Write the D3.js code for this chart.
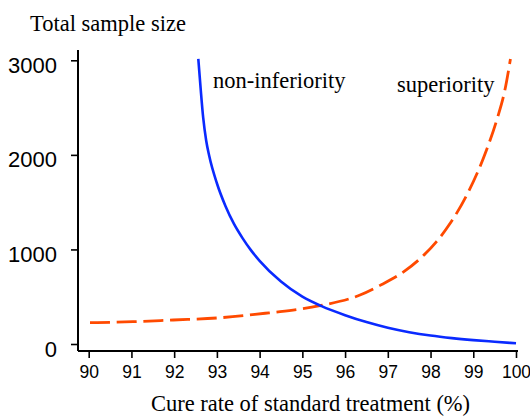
<!DOCTYPE html>
<html>
<head>
<meta charset="utf-8">
<script src="https://cdn.jsdelivr.net/npm/d3@7"></script>
<style>
  body { margin: 0; background: #fff; }
  svg { display: block; }
</style>
</head>
<body>
<div id="sample-chart"></div>
<script>
// tick values
const xTicks = [90, 91, 92, 93, 94, 95, 96, 97, 98, 99, 100];
const yTicks = [0, 1000, 2000, 3000];

// non-inferiority trial (solid blue)
const nonInfRate = [92.565, 92.62, 92.68, 92.75, 92.82, 93.0, 93.2, 93.4, 93.6, 93.8, 94.0, 94.5, 95.0, 95.45, 96.0, 96.5, 97.0, 97.5, 98.0, 98.5, 99.0, 99.5, 100.0];
const nonInfSize = [3014, 2700, 2390, 2150, 1990, 1700, 1460, 1270, 1120, 990, 880, 660, 500, 400, 305, 232, 172, 125, 89, 62, 41, 24, 8];

// superiority trial (dashed orange)
const supRate = [90.03, 91.04, 91.98, 93.0, 94.13, 94.48, 95.41, 96.35, 96.82, 97.36, 97.75, 98.14, 98.46, 98.85, 99.31, 99.55, 99.74, 99.87];
const supSize = [225, 236, 254, 275, 325, 342, 405, 518, 620, 760, 900, 1082, 1276, 1576, 2051, 2369, 2686, 3014];

const width = 530;
const height = 416;

const svg = d3
  .select("#sample-chart")
  .append("svg")
  .attr("width", width)
  .attr("height", height);

svg.append("rect").attr("width", width).attr("height", height).attr("fill", "#fff");

// scales
const x = d3.scaleLinear().domain([90, 100]).range([88.7, 516]);
const y = d3.scaleLinear().domain([0, 3000]).range([344, 60.3]);

const axisX = 78;
const axisY = 351;

// y axis
const yAxis = svg
  .append("g")
  .attr("transform", `translate(${axisX},0)`)
  .call(d3.axisLeft(y).tickValues(yTicks).tickSize(7).tickPadding(14).tickFormat(d3.format("d")));
yAxis.select(".domain").remove();
yAxis.selectAll(".tick line").attr("stroke", "#000").attr("stroke-width", 1.6);
yAxis
  .selectAll(".tick text")
  .attr("y", 5)
  .attr("fill", "#000")
  .style("font-family", "'Liberation Sans', Arial, sans-serif")
  .style("font-size", "22px");

// x axis
const xAxis = svg
  .append("g")
  .attr("transform", `translate(0,${axisY})`)
  .call(d3.axisBottom(x).tickValues(xTicks).tickSize(7).tickPadding(8).tickFormat(d3.format("d")));
xAxis.select(".domain").remove();
xAxis.selectAll(".tick line").attr("stroke", "#000").attr("stroke-width", 1.6);
xAxis
  .selectAll(".tick text")
  .attr("fill", "#000")
  .style("font-family", "'Liberation Sans', Arial, sans-serif")
  .style("font-size", "17.5px");

// axis lines
svg.append("line")
  .attr("x1", axisX).attr("x2", axisX)
  .attr("y1", 50).attr("y2", axisY)
  .attr("stroke", "#000").attr("stroke-width", 2);
svg.append("line")
  .attr("x1", axisX).attr("x2", 518)
  .attr("y1", axisY).attr("y2", axisY)
  .attr("stroke", "#000").attr("stroke-width", 2);

// curves
const line = d3
  .line()
  .x((d) => x(d[0]))
  .y((d) => y(d[1]))
  .curve(d3.curveMonotoneX);

svg.append("path")
  .datum(d3.zip(supRate, supSize))
  .attr("d", line)
  .attr("fill", "none")
  .attr("stroke", "#ff4a00")
  .attr("stroke-width", 2.8)
  .attr("stroke-dasharray", "20,6.7");

svg.append("path")
  .datum(d3.zip(nonInfRate, nonInfSize))
  .attr("d", line)
  .attr("fill", "none")
  .attr("stroke", "#0a2aff")
  .attr("stroke-width", 2.6);

// labels
const serif = "'Liberation Serif', 'Times New Roman', serif";

svg.append("text")
  .attr("x", 30).attr("y", 30.5)
  .style("font-family", serif).style("font-size", "22.5px")
  .text("Total sample size");

svg.append("text")
  .attr("x", 213).attr("y", 88)
  .style("font-family", serif).style("font-size", "22.5px")
  .text("non-inferiority");

svg.append("text")
  .attr("x", 397).attr("y", 92)
  .style("font-family", serif).style("font-size", "22.5px")
  .text("superiority");

svg.append("text")
  .attr("x", 310.5).attr("y", 411)
  .attr("text-anchor", "middle")
  .style("font-family", serif).style("font-size", "22.5px")
  .text("Cure rate of standard treatment (%)");
</script>
</body>
</html>
